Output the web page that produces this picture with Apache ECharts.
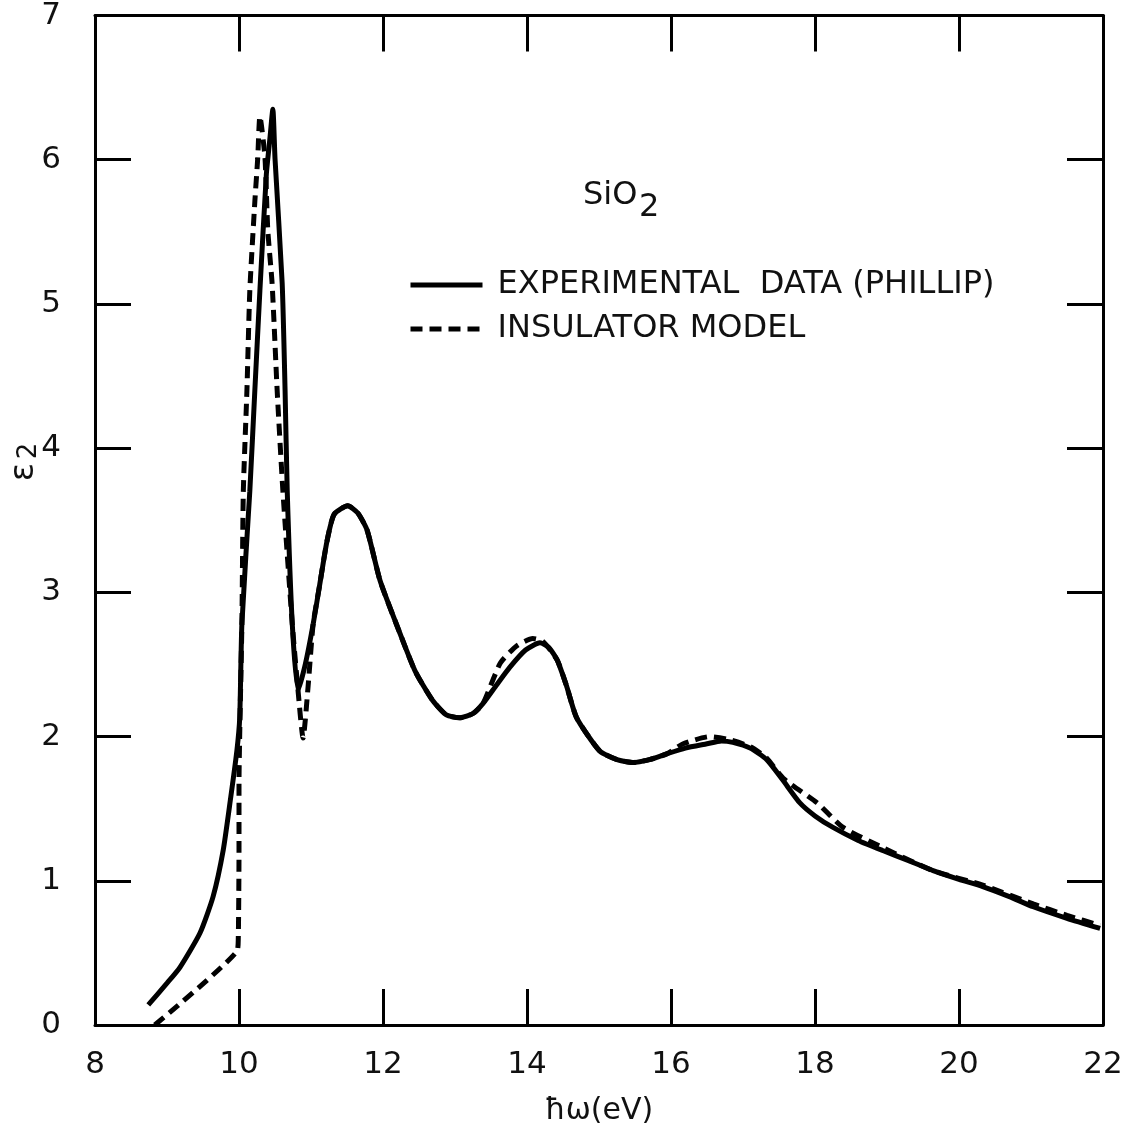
<!DOCTYPE html>
<html>
<head>
<meta charset="utf-8">
<script src="https://cdn.jsdelivr.net/npm/echarts@6/dist/echarts.min.js"></script>
<style>
  html, body { margin: 0; padding: 0; background: #fff; }
  #chart { width: 1127px; height: 1133px; }
</style>
</head>
<body>
<div id="chart"></div>
<script>
// SiO2 imaginary dielectric function: experiment vs insulator model
const xTicks = [8, 10, 12, 14, 16, 18, 20, 22];
const yTicks = [0, 1, 2, 3, 4, 5, 6, 7];

const seriesNames = ['EXPERIMENTAL  DATA (PHILLIP)', 'INSULATOR MODEL'];

// experimental data (solid)
const expEnergy = [8.74, 9.0, 9.18, 9.46, 9.64, 9.78, 9.88, 9.97, 10.01, 10.04, 10.15, 10.22, 10.29, 10.38, 10.43, 10.47,
  10.50, 10.60, 10.64, 10.67, 10.74, 10.82, 10.92, 11.03, 11.12, 11.22, 11.32, 11.51, 11.65, 11.78, 11.96,
  12.24, 12.45, 12.69, 12.88, 13.07, 13.25, 13.39, 13.58, 13.76, 13.98, 14.18, 14.30, 14.42, 14.55, 14.69,
  15.01, 15.25, 15.47, 15.70, 15.94, 16.2, 16.5, 16.7, 16.86, 17.1, 17.33, 17.55, 17.79, 18.0, 18.25, 18.6,
  18.94, 19.3, 19.64, 20.0, 20.33, 20.7, 21.03, 21.5, 21.96];
const expEps = [0.14, 0.29, 0.40, 0.64, 0.89, 1.21, 1.56, 1.90, 2.13, 2.78, 3.70, 4.40, 5.09, 5.90, 6.15, 6.35,
  6.01, 5.14, 4.40, 3.70, 2.78, 2.32, 2.50, 2.78, 3.05, 3.35, 3.54, 3.60, 3.55, 3.43, 3.08,
  2.71, 2.45, 2.25, 2.15, 2.13, 2.16, 2.23, 2.36, 2.48, 2.60, 2.65, 2.62, 2.53, 2.35, 2.13,
  1.90, 1.84, 1.82, 1.84, 1.88, 1.92, 1.95, 1.97, 1.96, 1.92, 1.84, 1.70, 1.54, 1.45, 1.37, 1.28,
  1.21, 1.14, 1.07, 1.01, 0.96, 0.89, 0.82, 0.74, 0.67];

// insulator model (dashed)
const modelEnergy = [8.83, 9.97, 9.99, 10.00, 10.00, 10.01, 10.04, 10.06, 10.11, 10.15, 10.22, 10.26, 10.29,
  10.36, 10.40, 10.46, 10.53, 10.61, 10.74, 10.82, 10.89, 10.96, 11.03, 11.12, 11.22, 11.32, 11.51, 11.65,
  11.78, 11.96, 12.24, 12.45, 12.69, 12.88, 13.07, 13.25, 13.39, 13.63, 13.86, 14.08, 14.22, 14.42, 14.55,
  14.69, 15.01, 15.25, 15.47, 15.70, 15.94, 16.17, 16.54, 16.8, 17.1, 17.33, 17.56, 18.03, 18.39, 18.94,
  19.64, 20.33, 21.03, 21.5, 21.96];
const modelEps = [0.00, 0.51, 0.60, 1.21, 1.68, 2.02, 2.78, 3.70, 4.40, 5.09, 5.71, 6.01, 6.30,
  6.02, 5.51, 5.14, 4.40, 3.70, 2.78, 2.32, 1.99, 2.35, 2.78, 3.05, 3.35, 3.54, 3.60, 3.55,
  3.43, 3.08, 2.71, 2.45, 2.25, 2.15, 2.13, 2.16, 2.23, 2.51, 2.63, 2.68, 2.66, 2.53, 2.35,
  2.13, 1.90, 1.84, 1.82, 1.84, 1.88, 1.95, 2.00, 1.98, 1.93, 1.85, 1.71, 1.54, 1.37, 1.23,
  1.07, 0.97, 0.84, 0.76, 0.69];

const font = 'DejaVu Sans';
const ink = '#000';
const textInk = '#111';

let chart = echarts.init(document.getElementById('chart'));

const pairs = (xs, ys) => xs.map((x, i) => [x, ys[i]]);

const frameAxis = {
  axisLine: { show: true, onZero: false, lineStyle: { color: ink, width: 3 } },
  axisTick: { show: true, inside: true, length: 36, lineStyle: { color: ink, width: 3 } },
  splitLine: { show: false },
};

let option = {
  backgroundColor: '#fff',
  animation: false,
  grid: { left: 95, right: 24, top: 14, bottom: 108, containLabel: false },
  legend: {
    orient: 'vertical',
    left: 403,
    top: 264,
    itemWidth: 72,
    itemHeight: 14,
    itemGap: 12,
    data: seriesNames,
    lineStyle: { width: 5 },
    itemStyle: { color: 'rgba(0,0,0,0)', borderColor: 'rgba(0,0,0,0)', borderWidth: 0 },
    textStyle: { fontFamily: font, fontSize: 32, color: textInk, padding: [0, 0, 0, 10] },
  },
  xAxis: [
    {
      type: 'value', min: xTicks[0], max: xTicks[xTicks.length - 1], interval: 2,
      position: 'bottom',
      name: 'ħω(eV)', nameLocation: 'middle', nameGap: 71,
      nameTextStyle: { fontFamily: font, fontSize: 30, color: textInk },
      axisLabel: { fontFamily: font, fontSize: 31, color: textInk, margin: 24 },
      ...frameAxis,
    },
    {
      type: 'value', min: xTicks[0], max: xTicks[xTicks.length - 1], interval: 2,
      position: 'top', axisLabel: { show: false },
      ...frameAxis,
    },
  ],
  yAxis: [
    {
      type: 'value', min: yTicks[0], max: yTicks[yTicks.length - 1], interval: 1,
      position: 'left',
      axisLabel: { fontFamily: font, fontSize: 31, color: textInk, margin: 34 },
      ...frameAxis,
    },
    {
      type: 'value', min: yTicks[0], max: yTicks[yTicks.length - 1], interval: 1,
      position: 'right', axisLabel: { show: false },
      ...frameAxis,
    },
  ],
  graphic: [
    { type: 'text', left: 583, top: 180, style: { text: 'SiO', font: '32px "DejaVu Sans"', fill: textInk } },
    { type: 'text', left: 639, top: 192, style: { text: '2', font: '32px "DejaVu Sans"', fill: textInk } },
    {
      // y-axis title, rotated
      type: 'group', x: 24, y: 472, rotation: Math.PI / 2,
      children: [
        { type: 'text', x: 0, y: 0, style: { text: 'ε', font: '34px "DejaVu Sans"', fill: textInk, align: 'center', verticalAlign: 'middle' } },
        { type: 'text', x: 21, y: 5, style: { text: '2', font: '26px "DejaVu Sans"', fill: textInk, align: 'center', verticalAlign: 'middle' } },
      ],
    },
  ],
  series: [
    {
      name: seriesNames[0],
      type: 'line',
      data: pairs(expEnergy, expEps),
      symbol: 'none',
      smooth: 0.2,
      lineStyle: { color: ink, width: 5, type: 'solid' },
      itemStyle: { color: ink },
    },
    {
      name: seriesNames[1],
      type: 'line',
      data: pairs(modelEnergy, modelEps),
      symbol: 'none',
      smooth: 0.2,
      lineStyle: { color: ink, width: 5, type: [12, 7] },
      itemStyle: { color: ink },
    },
  ],
};

chart.setOption(option);
window.addEventListener('resize', function () {
  chart && chart.resize();
});
</script>
</body>
</html>
